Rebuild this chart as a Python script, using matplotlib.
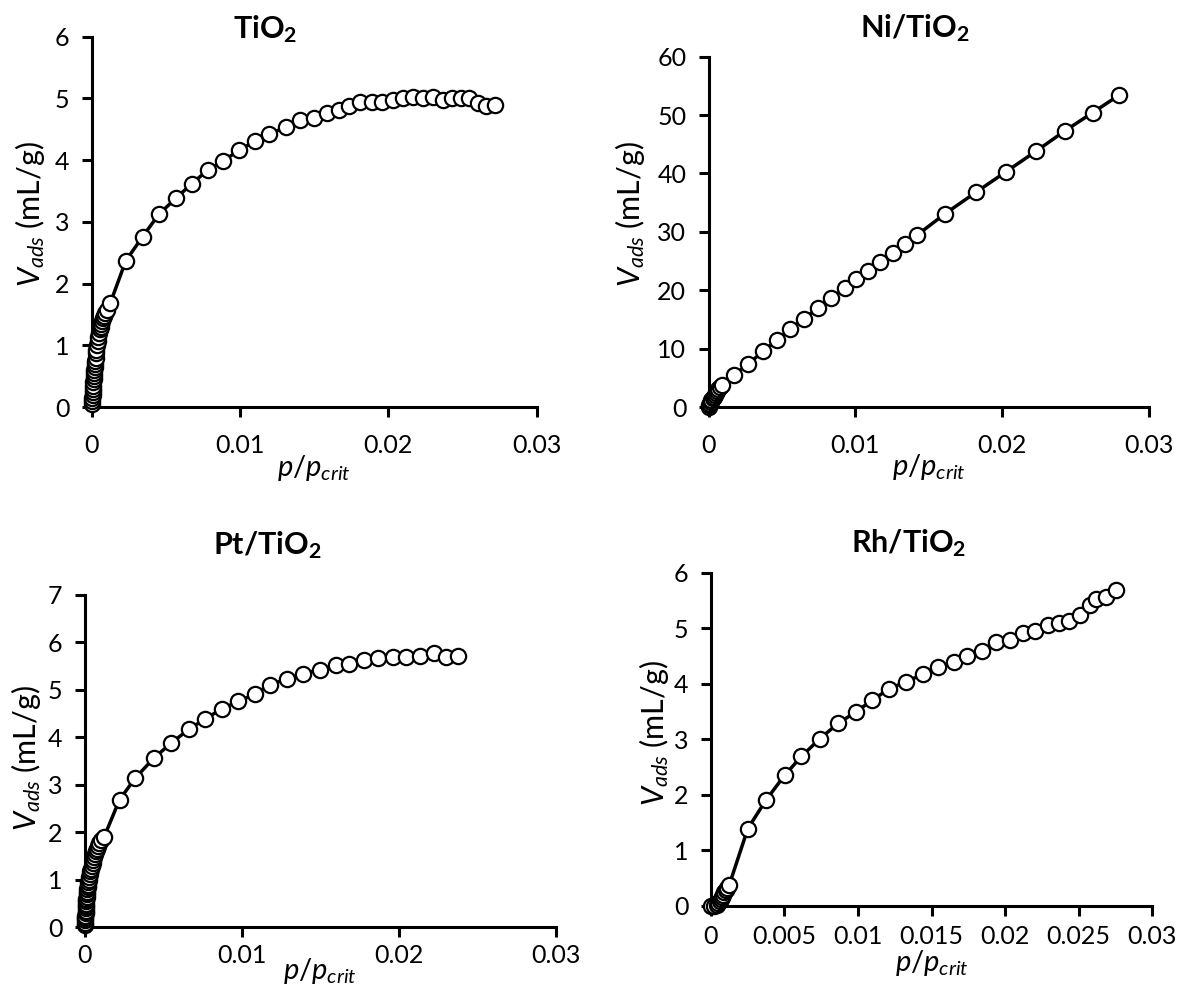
import numpy as np
import matplotlib
matplotlib.use("Agg")
import matplotlib.pyplot as plt

plt.rcParams['font.family'] = ['Lato', 'DejaVu Sans']
plt.rcParams['mathtext.fontset'] = 'custom'
plt.rcParams['mathtext.rm'] = 'Lato'
plt.rcParams['mathtext.it'] = 'Lato:italic'
plt.rcParams['mathtext.bf'] = 'Lato:bold'

# TiO2
tio2_x = [0.00000, 0.00002, 0.00004, 0.00005, 0.00006, 0.00008, 0.00009, 0.00010,
          0.00012, 0.00013, 0.00015, 0.00017, 0.00019, 0.00020, 0.00022, 0.00025,
          0.00028, 0.00030, 0.00035, 0.00040, 0.00045, 0.00050, 0.00055, 0.00060,
          0.00065, 0.00070, 0.00075, 0.00080, 0.00090, 0.00100, 0.00124,
          0.00229, 0.00342, 0.00454, 0.00566, 0.00674, 0.00782, 0.00888, 0.00991,
          0.01103, 0.01198, 0.01308, 0.01404, 0.01499, 0.01584, 0.01665, 0.01737,
          0.01809, 0.01888, 0.01960, 0.02029, 0.02097, 0.02169, 0.02236, 0.02303,
          0.02366, 0.02427, 0.02490, 0.02546, 0.02602, 0.02658, 0.02719]
tio2_y = [0.05, 0.10, 0.15, 0.20, 0.25, 0.30, 0.35, 0.40,
          0.45, 0.50, 0.55, 0.60, 0.65, 0.70, 0.75, 0.80,
          0.87, 0.93, 1.00, 1.07, 1.13, 1.20, 1.26, 1.30,
          1.35, 1.40, 1.44, 1.48, 1.53, 1.58, 1.68,
          2.37, 2.76, 3.13, 3.38, 3.62, 3.84, 3.99, 4.16,
          4.31, 4.43, 4.53, 4.65, 4.69, 4.77, 4.81, 4.88,
          4.94, 4.94, 4.95, 4.98, 5.01, 5.03, 5.00, 5.02,
          4.98, 5.01, 5.01, 5.00, 4.92, 4.88, 4.90]

# Ni/TiO2
ni_x = [0.00002, 0.00005, 0.00010, 0.00015, 0.00020, 0.00028, 0.00035, 0.00042,
        0.00050, 0.00058, 0.00066, 0.00075, 0.00092,
        0.00176, 0.00270, 0.00371, 0.00465, 0.00554, 0.00653, 0.00744, 0.00836,
        0.00932, 0.01008, 0.01088, 0.01168, 0.01255, 0.01340, 0.01420, 0.01614,
        0.01820, 0.02027, 0.02233, 0.02427, 0.02617, 0.02800]
ni_y = [0.1, 0.3, 0.6, 0.9, 1.2, 1.5, 1.8, 2.1,
        2.4, 2.8, 3.1, 3.4, 3.83,
        5.54, 7.37, 9.54, 11.49, 13.31, 15.14, 16.97, 18.69,
        20.40, 21.89, 23.26, 24.86, 26.46, 28.00, 29.43, 33.14,
        36.74, 40.29, 43.83, 47.26, 50.40, 53.43]

# Pt/TiO2
pt_x = [0.00000, 0.00001, 0.00002, 0.00003, 0.00004, 0.00005, 0.00006, 0.00007,
        0.00008, 0.00009, 0.00010, 0.00011, 0.00012, 0.00013, 0.00014, 0.00016,
        0.00018, 0.00020, 0.00022, 0.00025, 0.00028, 0.00032, 0.00036, 0.00040,
        0.00045, 0.00050, 0.00055, 0.00060, 0.00066, 0.00072, 0.00078, 0.00085,
        0.00093, 0.00102, 0.00124,
        0.00222, 0.00321, 0.00439, 0.00551, 0.00663, 0.00768, 0.00874, 0.00979,
        0.01083, 0.01181, 0.01290, 0.01392, 0.01496, 0.01600, 0.01681, 0.01779,
        0.01870, 0.01963, 0.02050, 0.02137, 0.02224, 0.02305, 0.02376]
pt_y = [0.05, 0.10, 0.15, 0.20, 0.25, 0.30, 0.35, 0.40,
        0.45, 0.50, 0.55, 0.60, 0.65, 0.70, 0.75, 0.80,
        0.85, 0.90, 0.95, 1.00, 1.06, 1.12, 1.18, 1.24,
        1.30, 1.36, 1.42, 1.48, 1.54, 1.60, 1.66, 1.72,
        1.78, 1.84, 1.91,
        2.69, 3.14, 3.56, 3.88, 4.17, 4.39, 4.60, 4.76,
        4.91, 5.11, 5.23, 5.34, 5.42, 5.52, 5.54, 5.62,
        5.67, 5.70, 5.70, 5.71, 5.77, 5.70, 5.72]

# Rh/TiO2
rh_x = [0.00000, 0.00020, 0.00040, 0.00050, 0.00060, 0.00070, 0.00075, 0.00080,
        0.00090, 0.00100, 0.00110, 0.00125,
        0.00251, 0.00376, 0.00501, 0.00615, 0.00740, 0.00866, 0.00984, 0.01098,
        0.01212, 0.01326, 0.01440, 0.01542, 0.01651, 0.01743, 0.01840, 0.01936,
        0.02034, 0.02123, 0.02205, 0.02289, 0.02364, 0.02437, 0.02506, 0.02580,
        0.02620, 0.02688, 0.02756]
rh_y = [0.00, 0.00, 0.02, 0.05, 0.08, 0.12, 0.16, 0.20,
        0.24, 0.28, 0.32, 0.375,
        1.39, 1.91, 2.35, 2.69, 3.01, 3.29, 3.49, 3.71,
        3.91, 4.04, 4.17, 4.30, 4.40, 4.50, 4.59, 4.75,
        4.79, 4.92, 4.95, 5.06, 5.10, 5.14, 5.24, 5.43,
        5.53, 5.56, 5.69]

xt_main = [0, 0.01, 0.02, 0.03]
xt_main_lab = ['0', '0.01', '0.02', '0.03']
xt_rh = [0, 0.005, 0.01, 0.015, 0.02, 0.025, 0.03]
xt_rh_lab = ['0', '0.005', '0.01', '0.015', '0.02', '0.025', '0.03']

panels = [
    # x, y, rect, yticks, xticks, xticklabels, title, title pos, ylabel pos, xlabel y, xtick pad
    (tio2_x, tio2_y, [0.078, 0.590, 0.378, 0.373], list(range(0, 7)), xt_main, xt_main_lab,
     r'$\mathbf{TiO_2}$', (0.389, 1.02), (-0.14, 0.52), -0.165, 12),
    (ni_x, ni_y, [0.602, 0.590, 0.374, 0.353], list(range(0, 61, 10)), xt_main, xt_main_lab,
     r'$\mathbf{Ni/TiO_2}$', (0.468, 1.08), (-0.178, 0.55), -0.172, 12),
    (pt_x, pt_y, [0.072, 0.066, 0.400, 0.335], list(range(0, 8)), xt_main, xt_main_lab,
     r'$\mathbf{Pt/TiO_2}$', (0.389, 1.15), (-0.125, 0.51), -0.13, 5),
    (rh_x, rh_y, [0.604, 0.088, 0.375, 0.335], list(range(0, 7)), xt_rh, xt_rh_lab,
     r'$\mathbf{Rh/TiO_2}$', (0.447, 1.09), (-0.13, 0.52), -0.172, 7),
]

fig = plt.figure(figsize=(11.77, 9.93), dpi=100)

for x, y, rect, yt, xt, xtl, title, tpos, ylpos, xly, xpad in panels:
    ax = fig.add_axes(rect)
    ax.plot(x, y, '-o', color='black', lw=2.5, ms=11, mfc='white', mec='black',
            mew=1.6, clip_on=False, zorder=3)
    ax.set_xlim(0, 0.03)
    ax.set_ylim(yt[0], yt[-1])
    ax.set_xticks(xt)
    ax.set_xticklabels(xtl)
    ax.set_yticks(yt)
    ax.set_yticklabels([str(v) for v in yt])
    for s in ['top', 'right']:
        ax.spines[s].set_visible(False)
    for s in ['left', 'bottom']:
        ax.spines[s].set_linewidth(2.2)
        ax.spines[s].set_zorder(2)
    ax.tick_params(direction='out', length=7, width=2.2, labelsize=18)
    ax.tick_params(axis='x', pad=xpad)
    ax.tick_params(axis='y', pad=9)
    ax.text(tpos[0], tpos[1], title, transform=ax.transAxes, ha='center',
            va='center', fontsize=22)
    ax.text(ylpos[0], ylpos[1], r'$V_{ads}$ (mL/g)', transform=ax.transAxes,
            rotation=90, ha='center', va='center', fontsize=22)
    ax.text(0.5, xly, r'$p/p_{crit}$', transform=ax.transAxes, ha='center',
            va='center', fontsize=21)

fig.savefig('out.png', dpi=100)
